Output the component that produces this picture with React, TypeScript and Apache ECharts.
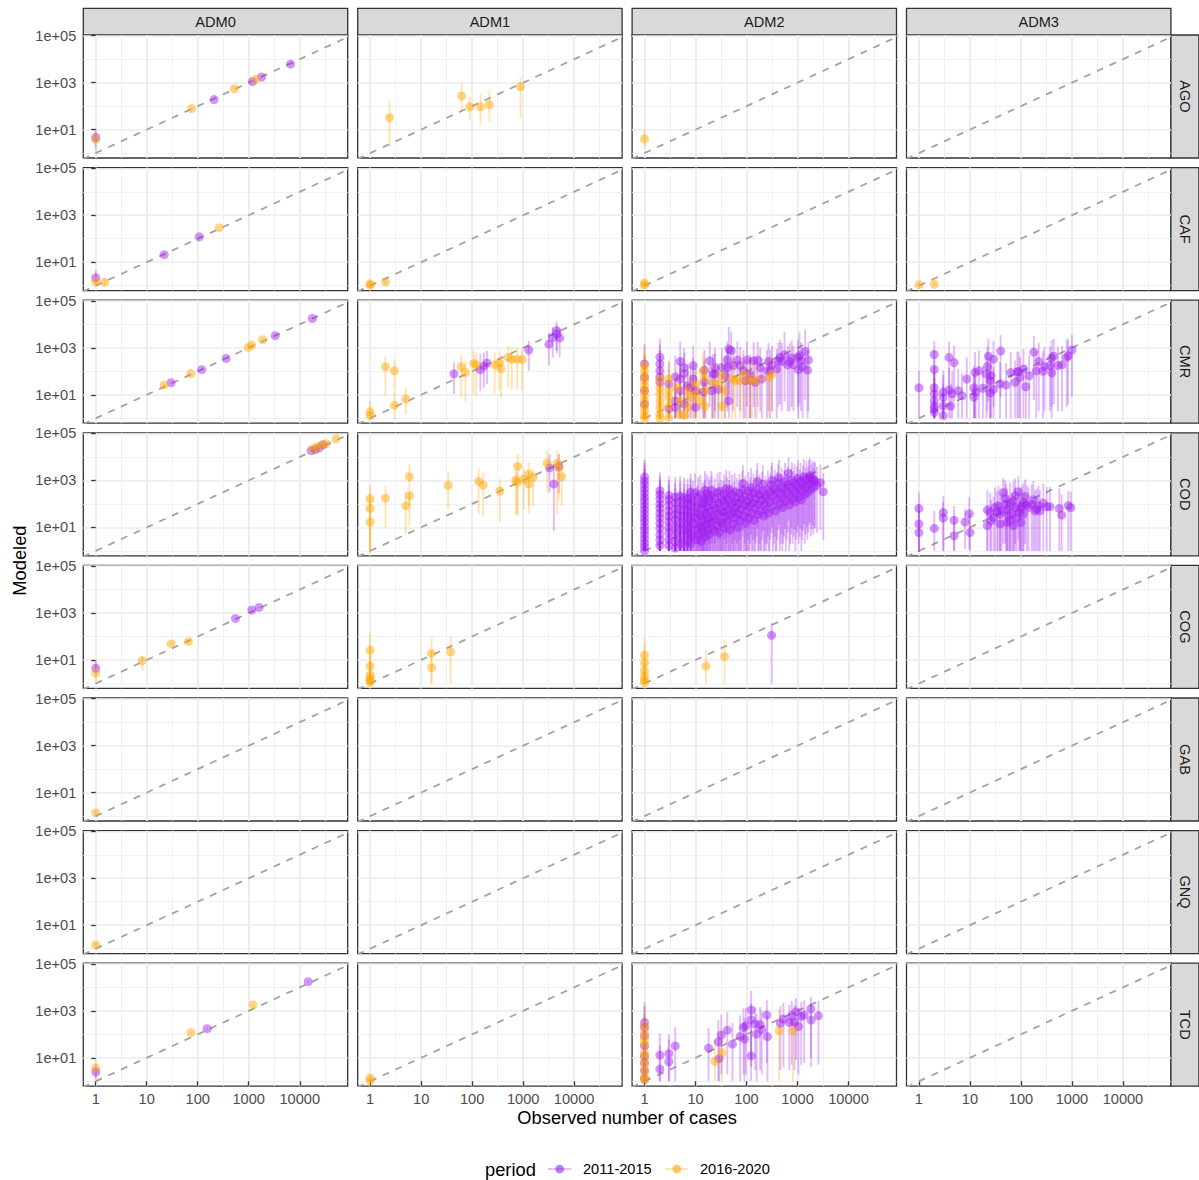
import React, { useEffect, useRef } from 'react';
import * as echarts from 'echarts';

type Pt = [number, number, number, number]; // observed, modeled, lower, upper

const COLS = ['ADM0', 'ADM1', 'ADM2', 'ADM3'];
const ROWS = ['AGO', 'CAF', 'CMR', 'COD', 'COG', 'GAB', 'GNQ', 'TCD'];
const PERIODS = ['2011-2015', '2016-2020'];
const PERIOD_RGB = ['160,32,240', '255,165,0'];
const X_TICKS = [1, 10, 100, 1000, 10000];
const X_TICK_LABELS = ['1', '10', '100', '1000', '10000'];
const X_MINOR = [3.1623, 31.623, 316.23, 3162.3, 31623];
const Y_TICKS = [10, 1000, 100000];
const Y_TICK_LABELS = ['1e+01', '1e+03', '1e+05'];
const Y_MINOR = [1, 100, 10000];
const X_LIMITS = [0.571, 87100];
const Y_LIMITS = [0.617, 107000];

// ---------- AGO ----------
const AGO_ADM0_P1: Pt[] = [[1, 4.6, 1.6, 11], [209, 190, 180, 200], [1180, 1120, 1080, 1160], [1790, 1740, 1690, 1790], [6600, 6200, 6000, 6400]];
const AGO_ADM0_P2: Pt[] = [[1, 3.9, 0.9, 9], [76, 79, 74, 84], [520, 550, 530, 570], [1370, 1400, 1350, 1450]];
const AGO_ADM1_P2: Pt[] = [[2.4, 32, 1.9, 170], [62, 270, 63, 890], [90, 94, 24, 250], [146, 94, 16, 340], [218, 115, 21, 450], [890, 670, 29, 1780]];
const AGO_ADM2_P2: Pt[] = [[1, 4, 1.6, 11]];

// ---------- CAF ----------
const CAF_ADM0_P1: Pt[] = [[1, 2.2, 1.2, 4.5], [22, 21, 19, 23], [107, 120, 112, 128]];
const CAF_ADM0_P2: Pt[] = [[1, 1.5, 0.9, 2.5], [1.5, 1.4, 1.0, 2.0], [263, 295, 280, 310]];
const CAF_ADM1_P2: Pt[] = [[1, 1.2, 1, 1.6], [1, 1.05, 0.9, 1.4], [2, 1.45, 1.1, 1.9]];
const CAF_ADM2_P2: Pt[] = [[1, 1.3, 1, 1.8], [1, 1.05, 0.9, 1.4]];
const CAF_ADM3_P2: Pt[] = [[1, 1.1, 1, 1.4], [2, 1.15, 1, 1.5]];

// ---------- CMR ----------
const CMR_ADM0_P1: Pt[] = [[30, 33, 31, 35], [120, 117, 112, 122], [360, 355, 345, 365], [3300, 3300, 3200, 3400], [17700, 17800, 17300, 18300]];
const CMR_ADM0_P2: Pt[] = [[22, 26, 20, 30], [73, 80, 75, 85], [980, 1040, 1000, 1080], [1140, 1320, 1270, 1370], [1880, 2220, 2150, 2290]];
const CMR_ADM1_P1: Pt[] = [[44, 78, 11, 240], [145, 118, 15, 550], [170, 166, 20, 640], [195, 224, 29, 760], [1290, 810, 105, 2000], [3200, 1440, 175, 4550], [3800, 2750, 390, 7400], [4500, 5400, 760, 13400], [4600, 3900, 600, 9000], [5200, 2650, 390, 7400]];
const CMR_ADM1_P2: Pt[] = [[1, 1.9, 0.9, 5.5], [1, 1.3, 0.9, 3], [2, 155, 9, 460], [3, 105, 15, 330], [3, 3.6, 0.9, 13], [5, 6.6, 1.5, 20], [61, 155, 7.6, 550], [74, 89, 4.7, 280], [107, 218, 11, 760], [120, 190, 9, 640], [277, 190, 11, 640], [345, 230, 15, 760], [370, 130, 7.6, 460], [510, 390, 20, 1230], [600, 330, 17, 1040], [760, 320, 17, 1040], [955, 320, 15, 890]];
const CMR_ADM2_P1: Pt[] = [
  [1, 205, 1, 1500], [1, 55, 1, 450], [1, 15, 1, 150], [1, 4, 1, 40],
  [2, 400, 3, 2500], [2, 205, 2, 1400], [2, 105, 1, 800], [2, 58, 1, 450], [2, 34, 1, 280],
  [3, 29, 1, 250], [3, 2.5, 1, 25],
  [4, 58, 1, 450], [5, 260, 3, 1800], [4, 5.5, 1, 50], [4, 2.9, 1, 30], [5, 15, 1, 140], [5, 47, 1, 380], [6, 145, 2, 1000], [6, 80, 1, 600], [6, 4, 1, 40], [7, 24, 1, 200],
  [9, 175, 2, 1200], [8, 20, 1, 170], [9, 47, 1, 380], [10, 2.9, 1, 30], [10, 15, 1, 140], [14, 13, 1, 120], [15, 112, 1, 800], [15, 34, 1, 280], [19, 280, 3, 1800], [22, 76, 1, 550],
  [21, 15, 1, 140], [24, 145, 2, 1000], [24, 76, 1, 560], [28, 17, 1, 150], [33, 145, 2, 1000], [38, 64, 1, 480], [45, 890, 10, 8000], [50, 760, 8, 5000], [42, 300, 3, 1800], [42, 145, 2, 1000],
  [45, 5.5, 1, 50], [55, 175, 2, 1100], [66, 300, 3, 1800], [75, 175, 2, 1100], [87, 105, 1, 800], [102, 300, 3, 1800], [95, 40, 1, 330], [118, 70, 1, 520], [118, 43, 1, 350], [138, 280, 3, 1700],
  [148, 34, 1, 280], [165, 300, 3, 1800], [185, 145, 2, 1000], [200, 47, 1, 380], [250, 105, 1, 800], [270, 260, 2, 1600], [290, 105, 1, 800], [315, 190, 2, 1200], [390, 125, 1, 900], [420, 280, 3, 1700],
  [455, 390, 4, 2200], [490, 260, 2, 1600], [555, 510, 5, 5000], [640, 190, 2, 1200], [700, 260, 2, 1600], [770, 370, 3, 2100], [830, 190, 2, 1200], [1020, 390, 3, 2200], [1090, 460, 4, 4500], [1040, 118, 1, 850],
  [1170, 280, 2, 1700], [1260, 155, 1, 1000], [1410, 700, 6, 6000], [1570, 112, 1, 800], [1630, 300, 2, 1800]
];
const CMR_ADM2_P2: Pt[] = [
  [1, 175, 1, 1230], [1, 105, 1, 800], [1, 64, 1, 500], [1, 40, 1, 300], [1, 24, 1, 200], [1, 15, 1, 120], [1, 9, 1, 80], [1, 5.5, 1, 50], [1, 3.3, 1, 30], [1, 2.1, 1, 20], [1, 1.3, 1, 10], [1, 1, 1, 6],
  [2, 47, 1, 300], [2, 20, 1, 150], [2, 11, 1, 90], [2, 5.5, 1, 50], [2, 2.9, 1, 25], [2, 1.5, 1, 12], [2, 1, 1, 8],
  [3, 47, 1, 320], [3, 15, 1, 140], [3, 7.6, 1, 70], [3, 3.3, 1, 30], [3, 1.1, 1, 10],
  [4.3, 20, 1, 160], [5, 5.5, 1, 50], [7, 15, 1, 130], [7, 2.9, 1, 25], [8, 7.6, 1, 70], [10, 11, 1, 100], [10, 29, 1, 220], [12, 5.5, 1, 50], [14, 105, 4, 600], [15, 55, 2, 400],
  [16, 15, 1, 130], [15, 3.3, 1, 30], [22, 34, 1, 260], [28, 29, 1, 240], [33, 64, 2, 450], [33, 3.3, 1, 30], [37, 15, 1, 140], [52, 47, 1, 380], [60, 40, 1, 320], [75, 40, 1, 330],
  [87, 76, 2, 520], [110, 40, 1, 320], [128, 47, 1, 380], [160, 40, 1, 330], [270, 55, 1, 420], [315, 76, 2, 500], [5, 1.5, 1, 12], [6, 1.3, 1, 10]
];
const CMR_ADM3_P1: Pt[] = [
  [1, 20, 1.1, 105],
  [2, 520, 20, 2000], [2, 120, 3, 800], [2, 20, 1, 150], [2, 11, 1, 90], [2, 5.5, 1, 50], [2, 3.3, 1, 30], [2, 2.5, 1, 20], [2, 1.8, 1, 15],
  [3, 13, 1, 110], [3, 7.6, 1, 70], [3, 3.3, 1, 30], [3, 1.3, 1, 12],
  [3.9, 390, 10, 1800], [4.9, 235, 5, 1200], [3.9, 16, 1, 140], [4.5, 11, 1, 100], [4.2, 3.3, 1, 30], [5.9, 15, 1, 130], [7, 9, 1, 80], [8.7, 47, 1, 380], [12.6, 90, 1, 650], [15, 105, 1, 750],
  [12, 20, 1, 170], [12, 8, 1, 75], [13, 13, 1, 120], [18, 19, 1, 160], [22, 160, 2, 1100], [23, 440, 5, 2500], [21, 76, 1, 550], [25, 40, 1, 330], [26, 64, 1, 480], [29, 330, 3, 2000],
  [25, 12, 1, 110], [29, 17, 1, 150], [39, 29, 1, 240], [40, 730, 8, 3500], [51, 26, 1, 220], [63, 88, 1, 650], [77, 34, 1, 280], [85, 97, 1, 700], [90, 97, 1, 700], [96, 55, 1, 420],
  [112, 125, 1, 900], [125, 22, 1, 190], [145, 64, 1, 480], [179, 660, 6, 3200], [200, 105, 1, 780], [224, 260, 2, 1600], [270, 100, 1, 750], [290, 160, 2, 1100], [370, 175, 2, 1150], [400, 87, 1, 650],
  [400, 370, 3, 2100], [440, 440, 4, 2400], [530, 175, 2, 1150], [640, 190, 2, 1200], [790, 390, 3, 2200], [840, 460, 4, 2500], [1000, 810, 8, 3500]
];

// ---------- COD ----------
const COD_ADM0_P1: Pt[] = [[16600, 18500, 17800, 19200], [20000, 20300, 19600, 21000], [24000, 24600, 23800, 25400], [28800, 33000, 32000, 34000]];
const COD_ADM0_P2: Pt[] = [[18200, 22400, 21600, 23200], [21900, 27300, 26400, 28200], [27400, 33000, 32000, 34000], [33000, 37000, 36000, 38000], [51500, 60000, 58000, 62000]];
const COD_ADM1_P1: Pt[] = [[3300, 3400, 310, 13400], [4000, 700, 7, 5000], [5000, 4000, 300, 13400]];
const COD_ADM1_P2: Pt[] = [[1, 162, 0.85, 590], [1, 64, 0.85, 300], [1, 17, 0.85, 100], [2, 175, 10, 590], [5, 84, 5, 310], [5.9, 225, 12, 310], [5.9, 1450, 84, 5000], [34, 630, 60, 2200], [135, 910, 37, 3100], [165, 630, 30, 2200], [350, 355, 16, 1150], [720, 1040, 37, 3100], [780, 4000, 37, 13400], [760, 820, 30, 2200], [1030, 1150, 60, 3100], [1290, 1870, 84, 5900], [1290, 700, 37, 2200], [1580, 1340, 84, 3100], [2950, 5500, 310, 18600], [4650, 5500, 37, 18600], [5000, 3550, 150, 13400], [5700, 1440, 84, 5900]];
const COD_ADM2_P1: Pt[] = [
  [1, 1, 1, 6], [1, 1.5, 1, 10], [1, 2.2, 1, 15], [1, 3.3, 1, 25], [1, 5, 1, 40], [1, 7.5, 1, 60], [1, 11, 1, 90], [1, 17, 1, 140], [1, 25, 1, 200], [1, 38, 1, 300], [1, 57, 1, 450], [1, 85, 1, 650], [1, 130, 1, 1000], [1, 190, 1, 1500], [1, 290, 1, 2200], [1, 430, 1, 3200], [1, 650, 1, 4500], [1, 950, 2, 6000], [1, 1400, 3, 8000],
  [2, 1.7, 1, 12], [2, 3, 1, 25], [2, 5, 1, 40], [2, 9, 1, 70], [2, 15, 1, 120], [2, 25, 1, 200], [2, 40, 1, 320], [2, 65, 1, 500], [2, 100, 1, 750], [2, 160, 1, 1100], [2, 250, 1, 1600], [2, 365, 2, 2200],
  [3, 1.7, 1, 12], [3, 3, 1, 25], [3, 6, 1, 45], [3, 10, 1, 80], [3, 18, 1, 140], [3, 30, 1, 230], [3, 50, 1, 380], [3, 90, 1, 650], [3, 150, 1, 1000], [3, 225, 2, 1500],
  [4, 1.3, 1, 10], [4, 2.5, 1, 20], [4, 5, 1, 40], [4, 10, 1, 80], [4, 20, 1, 160], [4, 35, 1, 270], [4, 60, 1, 450], [4, 110, 1, 800], [4, 200, 1, 1400],
  [5, 2, 1, 15], [5, 4, 1, 30], [5, 8, 1, 60], [5, 15, 1, 120], [5, 30, 1, 230], [5, 60, 1, 450], [5, 120, 1, 850], [5, 220, 2, 1500],
  [6, 1.5, 1, 12], [6, 3, 1, 25], [6, 7, 1, 55], [6, 14, 1, 110], [6, 28, 1, 220], [6, 55, 1, 420], [6, 100, 1, 750], [6, 190, 2, 1300],
  [7, 2.5, 1, 20], [7, 6, 1, 45], [7, 12, 1, 95], [7, 25, 1, 200], [7, 50, 1, 380], [7, 95, 1, 700], [7, 180, 2, 1200],
  [8, 2, 1, 16], [8, 5, 1, 40], [8, 10, 1, 80], [8, 22, 1, 170], [8, 45, 1, 350], [8, 90, 1, 650], [8, 170, 2, 1200], [8, 320, 3, 2000],
  [8.6, 4, 1, 30], [9.2, 15, 1, 120], [9.5, 45, 1, 350], [8.9, 130, 1, 950], [9.8, 300, 3, 2000],
  [10.3, 3, 1, 25], [10.8, 8, 1, 65], [9.9, 25, 1, 200], [10.5, 70, 1, 520], [11.2, 200, 2, 1400],
  [11.5, 5, 1, 40], [12.1, 12, 1, 95], [11.8, 35, 1, 270], [11.3, 90, 1, 650], [12.4, 250, 2, 1700],
  [12.8, 2.5, 1, 20], [13.3, 10, 1, 80], [12.6, 30, 1, 230], [13.6, 110, 1, 800],
  [14.2, 6, 1, 45], [13.9, 20, 1, 160], [14.6, 60, 1, 450], [15.1, 160, 2, 1100],
  [15.5, 4, 1, 30], [16.2, 14, 1, 110], [15.8, 40, 1, 300], [14.8, 120, 1, 850], [16.6, 280, 3, 1900], [15.3, 380, 4, 2500],
  [17.1, 8, 1, 60], [17.6, 25, 1, 190], [16.9, 75, 1, 550], [18.2, 200, 2, 1400],
  [18.6, 5, 1, 40], [19.3, 18, 1, 140], [19.8, 50, 1, 380], [18.9, 140, 1, 1000], [20.4, 380, 4, 2500],
  [21, 10, 1, 80], [21.8, 30, 1, 230], [22.5, 90, 1, 650], [20.7, 230, 2, 1600],
  [23.4, 7, 1, 55], [24.3, 22, 1, 170], [25.1, 65, 1, 480], [23.8, 170, 2, 1200],
  [26.5, 12, 1, 95], [27.4, 40, 1, 300], [28.3, 110, 1, 800], [27, 300, 3, 2000],
  [29.2, 6, 1, 45], [30.5, 18, 1, 140], [31.4, 55, 1, 420], [32.3, 150, 1, 1050], [30, 350, 3, 2300],
  [33.5, 15, 1, 120], [34.8, 45, 1, 340], [35.6, 130, 1, 950], [36.4, 260, 3, 1800],
  [37.5, 9, 1, 70], [38.9, 28, 1, 220], [39.8, 80, 1, 600], [41, 200, 2, 1400], [40, 450, 4, 2800],
  [42.5, 20, 1, 160], [44, 60, 1, 450], [45.3, 150, 1, 1050], [46.5, 400, 4, 2600],
  [47.5, 8, 1, 60], [49, 35, 1, 270], [50.5, 100, 1, 720], [52, 250, 2, 1700],
  [53.5, 14, 1, 110], [55.5, 45, 1, 340], [57, 120, 1, 850], [58.5, 320, 3, 2100],
  [60, 25, 1, 190], [62.5, 70, 1, 520], [64.5, 180, 2, 1250],
  [66.5, 10, 1, 80], [68.5, 40, 1, 300], [71, 110, 1, 800], [73, 280, 3, 1900],
  [75, 20, 1, 160], [77.5, 60, 1, 450], [80, 150, 1, 1050], [83, 400, 4, 2600], [85, 750, 7, 4500],
  [88, 30, 1, 230], [91, 90, 1, 650], [94, 220, 2, 1500],
  [97, 15, 1, 120], [100, 50, 1, 380], [104, 130, 1, 950], [108, 350, 3, 2300],
  [111, 25, 1, 190], [115, 80, 1, 600], [119, 200, 2, 1400], [123, 500, 5, 3200],
  [127, 40, 1, 300], [132, 110, 1, 800], [137, 280, 3, 1900],
  [142, 20, 1, 160], [147, 65, 1, 480], [152, 170, 2, 1200], [158, 420, 4, 2700], [163, 900, 9, 5500],
  [168, 35, 1, 270], [174, 100, 1, 720], [180, 250, 2, 1700],
  [187, 50, 1, 380], [194, 140, 1, 1000], [201, 350, 3, 2300], [209, 700, 7, 4200],
  [217, 30, 1, 230], [225, 90, 1, 650], [234, 220, 2, 1500],
  [243, 60, 1, 450], [252, 160, 2, 1100], [262, 400, 4, 2600],
  [272, 40, 1, 300], [283, 120, 1, 850], [295, 300, 3, 2000], [306, 650, 6, 4000], [318, 1000, 10, 6000],
  [330, 80, 1, 600], [343, 200, 2, 1400], [357, 450, 4, 2900],
  [371, 50, 1, 380], [386, 150, 1, 1050], [401, 350, 3, 2300], [417, 800, 8, 4800],
  [433, 1300, 13, 7500], [450, 100, 1, 720], [468, 250, 2, 1700], [486, 550, 5, 3500],
  [505, 70, 1, 520], [525, 180, 2, 1250], [546, 420, 4, 2700], [568, 900, 9, 5500],
  [590, 130, 1, 950], [614, 300, 3, 2000], [638, 650, 6, 4000],
  [663, 2000, 20, 9500], [690, 90, 1, 650], [717, 220, 2, 1500], [745, 500, 5, 3200], [775, 1000, 10, 6000],
  [805, 160, 2, 1100], [837, 380, 4, 2500], [870, 800, 8, 4800],
  [905, 120, 1, 850], [940, 280, 3, 1900], [978, 600, 6, 3800], [1016, 1200, 12, 7000],
  [1056, 200, 2, 1400], [1098, 450, 4, 2900], [1141, 900, 9, 5500],
  [1186, 150, 1, 1050], [1233, 350, 3, 2300], [1281, 700, 7, 4200], [1332, 1400, 14, 8000],
  [1385, 250, 2, 1700], [1440, 550, 5, 3500], [1497, 1100, 11, 6500],
  [1556, 300, 3, 2000], [1617, 650, 6, 4000], [1681, 1300, 13, 7500], [1747, 1600, 16, 9000],
  [1816, 400, 4, 2600], [1888, 800, 8, 4800], [1962, 1200, 12, 7000],
  [2040, 500, 5, 3200], [2120, 1000, 10, 6000], [2204, 900, 9, 6000],
  [2400, 600, 6, 3800], [2800, 800, 8, 4800], [3200, 330, 3, 2100]
];
const COD_ADM3_P1: Pt[] = [
  [1, 64, 0.9, 310], [1, 14, 0.9, 100], [1, 6, 0.9, 50], [2, 9, 1, 51], [3, 43, 1, 225], [3, 25, 1, 120], [4.9, 20, 1, 84], [4.9, 4.4, 1, 30], [8, 17, 1.2, 60], [9.7, 38, 1.2, 200], [10, 6, 1, 40],
  [22, 55, 1, 400], [22, 12, 1, 90], [25, 43, 1, 300], [26, 19, 1, 150], [29, 26, 1, 200], [31, 71, 1, 500], [34, 46, 1, 350], [36, 84, 1, 600], [39, 37, 1, 280], [39, 14, 1, 110],
  [42, 51, 1, 380], [45, 310, 2, 1300], [49, 170, 2, 1000], [51, 98, 1, 700], [53, 16, 1, 130], [54, 60, 1, 450], [57, 31, 1, 240], [61, 19, 1, 150], [61, 115, 1, 800], [66, 37, 1, 280],
  [71, 136, 1, 900], [71, 12, 1, 100], [77, 71, 1, 500], [77, 225, 2, 1200], [83, 26, 1, 200], [89, 330, 3, 1500], [93, 43, 1, 320], [96, 60, 1, 450], [99, 16, 1, 130], [104, 84, 1, 600],
  [112, 37, 1, 280], [112, 115, 1, 800], [121, 209, 2, 1100], [130, 89, 1, 620], [140, 71, 1, 500], [162, 98, 1, 680], [175, 150, 1, 950], [189, 51, 1, 380], [204, 60, 1, 440], [220, 84, 1, 600],
  [235, 51, 1, 380], [275, 109, 1, 750], [320, 76, 1, 520], [370, 76, 1, 520], [565, 64, 1, 450], [630, 33, 1, 250], [850, 84, 1, 365], [950, 69, 1, 330]
];

// ---------- COG ----------
const COG_ADM0_P1: Pt[] = [[1, 4.5, 2.5, 10], [550, 590, 560, 620], [1150, 1350, 1290, 1410], [1590, 1740, 1670, 1810]];
const COG_ADM0_P2: Pt[] = [[1, 2.8, 0.93, 10], [8.2, 9.4, 3.5, 15], [30, 49, 44, 55], [66, 62, 56, 68]];
const COG_ADM1_P2: Pt[] = [[1, 26, 1, 130], [1, 5.5, 1, 40], [1, 2.3, 1, 15], [1, 1.7, 1, 8], [1, 1.3, 1, 5], [1, 1.1, 1, 3], [16, 19, 1, 95], [16, 4.7, 1, 25], [38, 22, 1, 95]];
const COG_ADM2_P1: Pt[] = [[310, 112, 1, 390]];
const COG_ADM2_P2: Pt[] = [[1, 16, 1, 90], [1, 7.7, 1, 40], [1, 3.6, 1, 20], [1, 2.1, 1, 10], [1, 1.4, 1, 6], [1, 1.1, 1, 3], [16, 5.5, 1, 26], [37, 14, 1, 69]];

// ---------- GAB / GNQ ----------
const GAB_ADM0_P2: Pt[] = [[1, 1.4, 1.1, 1.8]];
const GNQ_ADM0_P2: Pt[] = [[1, 1.45, 1.1, 1.9]];

// ---------- TCD ----------
const TCD_ADM0_P1: Pt[] = [[1, 2.5, 1.2, 5], [153, 174, 165, 183], [14600, 17400, 16800, 18000]];
const TCD_ADM0_P2: Pt[] = [[1, 3.7, 1.5, 8], [74, 118, 110, 126], [1210, 1810, 1740, 1880]];
const TCD_ADM1_P2: Pt[] = [[1, 1.4, 1, 1.8], [1, 1.05, 0.9, 1.3]];
const TCD_ADM2_P1: Pt[] = [
  [1, 320, 1, 2300], [1, 195, 1, 1500], [1, 85, 1, 700], [1, 32, 1, 300], [1, 12, 1, 120], [1, 6.3, 1, 60], [1, 2.8, 1, 30], [1, 1.3, 1, 10],
  [2, 13, 1, 110], [2, 3.3, 1, 35], [3, 15, 1, 100], [3, 6.8, 1, 60], [4, 32, 1, 200], [18, 26, 1, 180], [28, 48, 1, 400], [29, 9.3, 1, 80], [32, 93, 2, 700], [42, 150, 2, 900],
  [53, 38, 1, 300], [75, 81, 1, 650], [87, 195, 2, 1300], [91, 63, 1, 500], [97, 230, 2, 1400], [123, 1080, 10, 7000], [123, 420, 4, 2000], [123, 12, 1, 100], [148, 275, 3, 1500], [158, 102, 1, 750],
  [185, 260, 3, 1500], [199, 156, 2, 1000], [250, 660, 6, 2800], [257, 79, 1, 600], [460, 290, 3, 1600], [530, 450, 4, 2200], [690, 320, 3, 1800], [770, 620, 5, 2600], [870, 330, 3, 1800], [935, 920, 8, 3500],
  [1040, 215, 2, 1300], [1180, 580, 5, 2500], [1350, 660, 6, 2800], [1820, 1200, 10, 4000], [1850, 405, 4, 2000], [2570, 620, 5, 2600]
];
const TCD_ADM2_P2: Pt[] = [
  [1, 230, 1, 1200], [1, 117, 1, 800], [1, 60, 1, 500], [1, 40, 1, 300], [1, 17, 1, 150], [1, 10, 1, 90], [1, 5, 1, 50], [1, 2.7, 1, 25], [1, 1.5, 1, 12], [1, 1.1, 1, 8],
  [24, 7, 1, 60], [33, 16, 1, 140], [435, 141, 1, 1100], [810, 141, 1, 1100]
];

const PANEL_DATA: Record<string, Pt[][]> = {
  AGO_ADM0: [AGO_ADM0_P1, AGO_ADM0_P2], AGO_ADM1: [[], AGO_ADM1_P2], AGO_ADM2: [[], AGO_ADM2_P2],
  CAF_ADM0: [CAF_ADM0_P1, CAF_ADM0_P2], CAF_ADM1: [[], CAF_ADM1_P2], CAF_ADM2: [[], CAF_ADM2_P2], CAF_ADM3: [[], CAF_ADM3_P2],
  CMR_ADM0: [CMR_ADM0_P1, CMR_ADM0_P2], CMR_ADM1: [CMR_ADM1_P1, CMR_ADM1_P2], CMR_ADM2: [CMR_ADM2_P1, CMR_ADM2_P2], CMR_ADM3: [CMR_ADM3_P1, []],
  COD_ADM0: [COD_ADM0_P1, COD_ADM0_P2], COD_ADM1: [COD_ADM1_P1, COD_ADM1_P2], COD_ADM2: [COD_ADM2_P1, []], COD_ADM3: [COD_ADM3_P1, []],
  COG_ADM0: [COG_ADM0_P1, COG_ADM0_P2], COG_ADM1: [[], COG_ADM1_P2], COG_ADM2: [COG_ADM2_P1, COG_ADM2_P2],
  GAB_ADM0: [[], GAB_ADM0_P2], GNQ_ADM0: [[], GNQ_ADM0_P2],
  TCD_ADM0: [TCD_ADM0_P1, TCD_ADM0_P2], TCD_ADM1: [[], TCD_ADM1_P2], TCD_ADM2: [TCD_ADM2_P1, TCD_ADM2_P2],
};

const FONT = '"Liberation Sans", Arial, Helvetica, sans-serif';
const LAYOUT = { left: 83.3, top: 35, colPitch: 274.4, rowPitch: 132.6, w: 264.4, h: 123, stripTop: 8.3, stripH: 26.7, stripW: 28 };

function buildOption() {
  const lg = Math.log10;
  const xt = X_TICKS.map(lg);
  const xm = X_MINOR.map(lg);
  const yt = Y_TICKS.map(lg);
  const ym = Y_MINOR.map(lg);
  const xr = X_LIMITS.map(lg);
  const yr = Y_LIMITS.map(lg);
  const fmt = (ticks: number[], labels: string[]) => (v: number) => {
    const i = ticks.findIndex((t) => Math.abs(t - v) < 1e-6);
    return i >= 0 ? labels[i] : '';
  };
  const grids: any[] = [];
  const xAxes: any[] = [];
  const yAxes: any[] = [];
  const series: any[] = [];
  const graphics: any[] = [];
  const majorLine = { show: true, lineStyle: { color: '#EBEBEB', width: 1.7 } };
  const minorLine = { show: true, lineStyle: { color: '#EFEFEF', width: 0.9 } };

  ROWS.forEach((row, r) => {
    COLS.forEach((col, c) => {
      const g = r * COLS.length + c;
      const left = LAYOUT.left + c * LAYOUT.colPitch;
      const top = LAYOUT.top + r * LAYOUT.rowPitch;
      const isBottom = r === ROWS.length - 1;
      const isFirst = c === 0;
      grids.push({ left, top, width: LAYOUT.w, height: LAYOUT.h, show: true, borderColor: '#333333', borderWidth: 1.3, backgroundColor: '#FFFFFF' });
      xAxes.push({
        type: 'value', gridIndex: g, min: xr[0], max: xr[1], position: 'bottom',
        axisLine: { show: false },
        axisTick: { show: isBottom, customValues: xt, length: 4.5, lineStyle: { color: '#333333', width: 1.3 } },
        axisLabel: { show: isBottom, customValues: xt, formatter: fmt(xt, X_TICK_LABELS), color: '#4D4D4D', fontSize: 14.6, fontFamily: FONT, margin: 5 },
        splitLine: majorLine,
      });
      xAxes.push({
        type: 'value', gridIndex: g, min: xr[0], max: xr[1], position: 'top',
        axisLine: { show: false }, axisTick: { show: false, customValues: xm }, axisLabel: { show: false, customValues: xm },
        splitLine: minorLine,
      });
      yAxes.push({
        type: 'value', gridIndex: g, min: yr[0], max: yr[1], position: 'left',
        axisLine: { show: false },
        axisTick: { show: isFirst, customValues: yt, length: 4.5, lineStyle: { color: '#333333', width: 1.3 } },
        axisLabel: { show: isFirst, customValues: yt, formatter: fmt(yt, Y_TICK_LABELS), color: '#4D4D4D', fontSize: 14.6, fontFamily: FONT, margin: 7 },
        splitLine: majorLine,
      });
      yAxes.push({
        type: 'value', gridIndex: g, min: yr[0], max: yr[1], position: 'right',
        axisLine: { show: false }, axisTick: { show: false, customValues: ym }, axisLabel: { show: false, customValues: ym },
        splitLine: minorLine,
      });
      const ax = 2 * g;
      series.push({
        type: 'line', xAxisIndex: ax, yAxisIndex: ax, data: [[-1, -1], [6, 6]], symbol: 'none', silent: true, clip: true,
        lineStyle: { color: '#A3A3A3', width: 1.8, type: [7, 7] }, z: 1,
      });
      const sets = PANEL_DATA[`${row}_${col}`] || [[], []];
      sets.forEach((pts, p) => {
        if (!pts.length) return;
        const rgb = PERIOD_RGB[p];
        series.push({
          type: 'custom', name: PERIODS[p], xAxisIndex: ax, yAxisIndex: ax, clip: true, silent: true, z: 2,
          data: pts.map((d) => [lg(d[0]), lg(d[1]), lg(d[2]), lg(d[3])]),
          encode: { x: 0, y: 1 },
          renderItem: (params: any, api: any) => {
            const x = api.value(0);
            const a = api.coord([x, api.value(2)]);
            const b = api.coord([x, api.value(3)]);
            return { type: 'line', shape: { x1: a[0], y1: a[1], x2: b[0], y2: b[1] }, style: { stroke: `rgba(${rgb},0.3)`, lineWidth: 1.9 } };
          },
        });
      });
      sets.forEach((pts, p) => {
        if (!pts.length) return;
        const rgb = PERIOD_RGB[p];
        series.push({
          type: 'scatter', name: PERIODS[p], xAxisIndex: ax, yAxisIndex: ax, silent: true, z: 3,
          symbol: 'circle', symbolSize: 9,
          data: pts.map((d) => [lg(d[0]), lg(d[1])]),
          itemStyle: { color: `rgba(${rgb},0.6)` },
        });
      });
    });
  });

  // top strips
  COLS.forEach((col, c) => {
    const left = LAYOUT.left + c * LAYOUT.colPitch;
    graphics.push({ type: 'rect', shape: { x: left, y: LAYOUT.stripTop, width: LAYOUT.w, height: LAYOUT.stripH }, style: { fill: '#D9D9D9', stroke: '#333333', lineWidth: 1.3 }, silent: true });
    graphics.push({ type: 'text', x: left + LAYOUT.w / 2, y: LAYOUT.stripTop + LAYOUT.stripH / 2, style: { text: col, fill: '#1A1A1A', fontSize: 14.6, fontFamily: FONT, align: 'center', verticalAlign: 'middle' }, silent: true });
  });
  // right strips
  const rightX = LAYOUT.left + 3 * LAYOUT.colPitch + LAYOUT.w;
  ROWS.forEach((row, r) => {
    const top = LAYOUT.top + r * LAYOUT.rowPitch;
    graphics.push({ type: 'rect', shape: { x: rightX, y: top, width: LAYOUT.stripW, height: LAYOUT.h }, style: { fill: '#D9D9D9', stroke: '#333333', lineWidth: 1.3 }, silent: true });
    graphics.push({ type: 'text', x: rightX + LAYOUT.stripW / 2, y: top + LAYOUT.h / 2, rotation: -Math.PI / 2, style: { text: row, fill: '#1A1A1A', fontSize: 14.6, fontFamily: FONT, align: 'center', verticalAlign: 'middle' }, silent: true });
  });
  // axis titles
  const plotBottom = LAYOUT.top + 7 * LAYOUT.rowPitch + LAYOUT.h;
  graphics.push({ type: 'text', x: (LAYOUT.left + rightX) / 2, y: 1117, style: { text: 'Observed number of cases', fill: '#000000', fontSize: 18.3, fontFamily: FONT, align: 'center', verticalAlign: 'middle' }, silent: true });
  graphics.push({ type: 'text', x: 19, y: (LAYOUT.top + plotBottom) / 2, rotation: Math.PI / 2, style: { text: 'Modeled', fill: '#000000', fontSize: 18.3, fontFamily: FONT, align: 'center', verticalAlign: 'middle' }, silent: true });
  // legend
  const ly = 1169;
  graphics.push({ type: 'text', x: 485, y: ly, style: { text: 'period', fill: '#000000', fontSize: 18.3, fontFamily: FONT, align: 'left', verticalAlign: 'middle' }, silent: true });
  const keyX = [548, 665];
  const labelX = [583, 700];
  PERIODS.forEach((name, p) => {
    const rgb = PERIOD_RGB[p];
    graphics.push({ type: 'line', shape: { x1: keyX[p], y1: ly, x2: keyX[p] + 23.5, y2: ly }, style: { stroke: `rgba(${rgb},0.3)`, lineWidth: 1.9 }, silent: true });
    graphics.push({ type: 'circle', shape: { cx: keyX[p] + 11.7, cy: ly, r: 4.3 }, style: { fill: `rgba(${rgb},0.6)` }, silent: true });
    graphics.push({ type: 'text', x: labelX[p], y: ly, style: { text: name, fill: '#000000', fontSize: 14.6, fontFamily: FONT, align: 'left', verticalAlign: 'middle' }, silent: true });
  });

  return {
    animation: false,
    backgroundColor: '#FFFFFF',
    textStyle: { fontFamily: FONT },
    grid: grids,
    xAxis: xAxes,
    yAxis: yAxes,
    series,
    graphic: { elements: graphics },
  };
}

export default function App() {
  const ref = useRef<HTMLDivElement>(null);
  useEffect(() => {
    if (!ref.current) return;
    const chart = echarts.init(ref.current, undefined, { renderer: 'svg' });
    chart.setOption(buildOption() as any);
    return () => chart.dispose();
  }, []);
  return <div ref={ref} style={{ position: 'absolute', left: 0, top: 0, width: 1199, height: 1180, background: '#FFFFFF' }} />;
}
